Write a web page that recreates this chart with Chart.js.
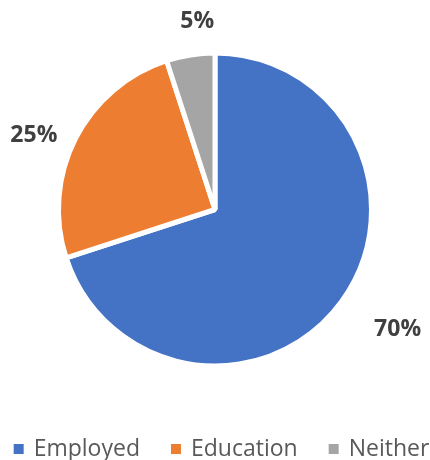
<!DOCTYPE html>
<html>
<head>
<meta charset="utf-8">
<script src="https://cdn.jsdelivr.net/npm/chart.js@4/dist/chart.umd.min.js"></script>
<style>
  html,body{margin:0;padding:0;background:#fff;}
  #wrap{width:430px;height:460px;position:relative;}
</style>
</head>
<body>
<div id="wrap"><canvas id="pieChart" width="430" height="460"></canvas></div>
<script>
// ================= Data =================
const categories=['Employed','Education','Neither'];
const shares=[70,25,5];
const sliceColors=['#4472C4','#ED7D31','#A5A5A5'];

// ================= Outside labels =================
// best-fit style placement: px beyond the rim, and a small turn (deg) off the slice middle
const labelGap=[62,39,32];
const labelTurn=[-2.7,-4.9,3.6];
const pctLabels={
    id:'pctLabels',
    afterDatasetsDraw(chart){
        const ctx=chart.ctx;
        const arcs=chart.getDatasetMeta(0).data;
        ctx.save();
        ctx.font='bold 23px "Open Sans", sans-serif';
        ctx.fillStyle='#404040';
        ctx.textAlign='center'; ctx.textBaseline='middle';
        arcs.forEach((arc,i)=>{
            const mid=(arc.startAngle+arc.endAngle)/2+labelTurn[i]*Math.PI/180;
            const r=arc.outerRadius+labelGap[i];
            ctx.fillText(shares[i]+'%',arc.x+Math.cos(mid)*r,arc.y+Math.sin(mid)*r);
        });
        ctx.restore();
    }
};

// ================= Legend (one row, bottom) =================
const bottomLegend={
    id:'bottomLegend',
    afterDraw(chart){
        const ctx=chart.ctx;
        ctx.save();
        ctx.font='23px "Open Sans", sans-serif';
        ctx.textBaseline='middle';
        const box=10, gapBox=10, gapItem=31, y=449;
        const widths=categories.map(c=>ctx.measureText(c).width);
        const total=widths.reduce((a,w)=>a+box+gapBox+w,0)+gapItem*(categories.length-1);
        let x=221.5-total/2;
        categories.forEach((c,i)=>{
            ctx.fillStyle=sliceColors[i];
            ctx.fillRect(x,y-box/2,box,box);
            x+=box+gapBox;
            ctx.fillStyle='#595959';
            ctx.fillText(c,x,y);
            x+=widths[i]+gapItem;
        });
        ctx.restore();
    }
};

const pieCtx=document.getElementById('pieChart').getContext('2d');
new Chart(pieCtx,{
    type:'pie',
    data:{labels:categories,datasets:[{data:shares,backgroundColor:sliceColors,borderColor:'#ffffff',borderWidth:5}]},
    options:{
        responsive:false,animation:false,
        layout:{padding:{top:50,left:56,right:56,bottom:91}},
        plugins:{tooltip:{enabled:false},legend:{display:false}}
    },
    plugins:[pctLabels,bottomLegend]
});
</script>
</body>
</html>
